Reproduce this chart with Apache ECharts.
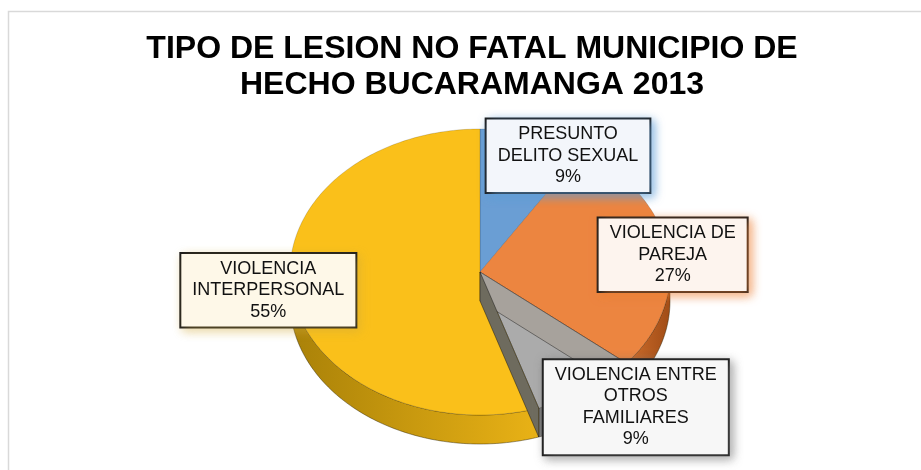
<!DOCTYPE html>
<html><head><meta charset="utf-8">
<script src="https://cdn.jsdelivr.net/npm/echarts@6/dist/echarts.min.js"></script>
<style>html,body{margin:0;padding:0;background:#fff}#c{width:921px;height:470px}</style>
</head><body><div id="c"></div>
<script>
// ---- data ----
const titleLines = ['TIPO DE LESION NO FATAL MUNICIPIO DE', 'HECHO BUCARAMANGA 2013'];
const categories = ['PRESUNTO DELITO SEXUAL', 'VIOLENCIA DE PAREJA', 'VIOLENCIA ENTRE OTROS FAMILIARES', 'VIOLENCIA INTERPERSONAL'];
const values = [9, 27, 9, 55];

// ---- styles ----
const FONT = '"Liberation Sans", Arial, sans-serif';
const topColors = ['#6A9ED4', '#EC8540', '#ABABAB', '#FAC01A'];
const sideColors = [['#3f6f9f', '#5a8cc0'], ['#cf6e2c', '#a04c16'], ['#7a7a7a', '#909090'], ['#a98108', '#e9b216']];
const wallColors = [null, null, '#A7A29C', '#6E6B5E'];
const boxFills = ['#F3F6FB', '#FDF4EE', '#F7F7F7', '#FEF8E8'];
const shadowColors = ['rgba(91,155,213,0.7)', 'rgba(237,125,49,0.6)', 'rgba(110,110,110,0.55)', 'rgba(210,170,60,0.4)'];
const labelNudge = [[35, 21], [5, 5], [49, 17], [-24, -4]];
const PIE = { cx: 480, cy: 272, rx: 190, ry: 143, depth: 29 };

const total = values.reduce((a, b) => a + b, 0);
const starts = [];
values.reduce((acc, v, i) => { starts[i] = acc; return acc + v; }, 0);

const mctx = document.createElement('canvas').getContext('2d');
mctx.font = '18px ' + FONT;
function wrap(text, maxW) {
  const words = text.split(' ');
  const lines = [];
  let cur = '';
  words.forEach(w => {
    const t = cur ? cur + ' ' + w : w;
    if (cur && mctx.measureText(t).width > maxW) { lines.push(cur); cur = w; }
    else cur = t;
  });
  if (cur) lines.push(cur);
  return lines.join('\n');
}
function pt(a, dy) {
  const r = a * Math.PI / 180;
  return [PIE.cx + PIE.rx * Math.sin(r), PIE.cy - PIE.ry * Math.cos(r) + (dy || 0)];
}
function arc(a0, a1, dy) {
  const pts = [];
  const n = Math.max(2, Math.ceil(Math.abs(a1 - a0)));
  for (let k = 0; k <= n; k++) pts.push(pt(a0 + (a1 - a0) * k / n, dy));
  return pts;
}

function renderItem(params, api) {
  const i = params.dataIndex;
  const v = api.value(0);
  const a0 = starts[i] / total * 360;
  const a1 = (starts[i] + v) / total * 360;
  const children = [];
  const s = Math.max(a0, 90), e = Math.min(a1, 270);
  if (s < e) {
    children.push({
      type: 'polygon', z2: 1,
      shape: { points: arc(s, e, 0).concat(arc(e, s, PIE.depth)) },
      style: {
        fill: new echarts.graphic.LinearGradient(0, 0, 1, 0, [
          { offset: 0, color: sideColors[i][0] }, { offset: 1, color: sideColors[i][1] }]),
        stroke: 'rgba(40,30,0,0.55)', lineWidth: 0.8
      }
    });
  }
  children.push({
    type: 'polygon', z2: 10,
    shape: { points: [[PIE.cx, PIE.cy]].concat(arc(a0, a1, 0)) },
    style: { fill: topColors[i], stroke: 'rgba(0,0,0,0.25)', lineWidth: 0.6 }
  });
  if (wallColors[i]) {
    children.push({
      type: 'polygon', z2: 11,
      shape: { points: [[PIE.cx, PIE.cy], pt(a0, 0), pt(a0, PIE.depth), [PIE.cx, PIE.cy + PIE.depth]] },
      style: { fill: wallColors[i], stroke: 'rgba(0,0,0,0.5)', lineWidth: 0.8 }
    });
  }
  const mid = (a0 + a1) / 2;
  const anc = pt(mid, 0);
  const pct = Math.round(v / total * 100) + '%';
  children.push({
    type: 'text', z2: 30,
    x: anc[0] + labelNudge[i][0], y: anc[1] + labelNudge[i][1],
    style: {
      text: wrap(categories[i], 165) + '\n' + pct,
      fontSize: 18, fontFamily: FONT, fill: '#111',
      align: 'center', verticalAlign: 'middle',
      textAlign: 'center', textVerticalAlign: 'middle',
      lineHeight: 21.5,
      backgroundColor: boxFills[i], borderColor: '#1a1a1a', borderWidth: 2,
      padding: [4, 11],
      shadowBlur: 10, shadowColor: shadowColors[i], shadowOffsetX: 3, shadowOffsetY: 3
    }
  });
  return { type: 'group', children };
}

const chart = echarts.init(document.getElementById('c'), null, { renderer: 'canvas' });
chart.setOption({
  backgroundColor: '#fff',
  animation: false,
  title: {
    text: titleLines.join('\n'), left: 472, top: 31, padding: 0, textAlign: 'center',
    textStyle: { fontSize: 32, fontWeight: 'bold', fontFamily: FONT, color: '#000', lineHeight: 36 }
  },
  graphic: [{
    type: 'rect', silent: true, z: -1,
    shape: { x: 8.5, y: 11.5, width: 960, height: 480 },
    style: { fill: 'none', stroke: '#d9d9d9', lineWidth: 1.5 }
  }],
  series: [{
    type: 'custom', coordinateSystem: 'none', renderItem,
    data: values.map((v, i) => ({ name: categories[i], value: v }))
  }]
});
</script></body></html>
